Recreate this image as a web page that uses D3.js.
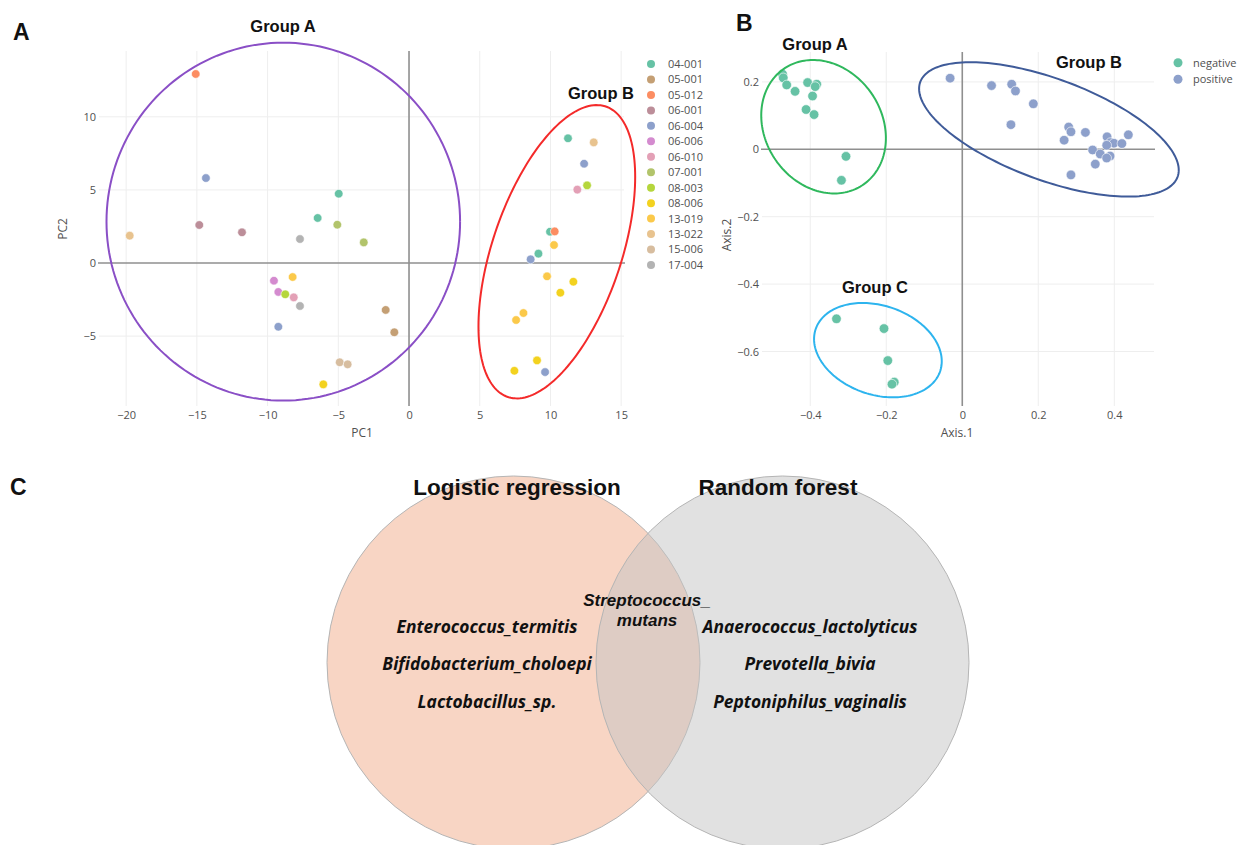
<!DOCTYPE html>
<html>
<head>
<meta charset="utf-8">
<script src="https://cdn.jsdelivr.net/npm/d3@7"></script>
<style>
  body { margin: 0; background: #fff; }
  svg { display: block; }
</style>
</head>
<body>
<svg id="fig" width="1237" height="845"></svg>
<script>
// ---------- Panel A: PCA of samples ----------
const sampleIds = ["04-001","05-001","05-012","06-001","06-004","06-006","06-010",
                   "07-001","08-003","08-006","13-019","13-022","15-006","17-004"];
const sampleColors = ["#66c2a5","#c49f74","#fc8d62","#bc8e99","#8da0cb","#d48bcf","#e3a0b6",
                      "#b2c46b","#b5d63c","#f3d21f","#fbc94a","#e8c38f","#d7bd9f","#b3b3b3"];

const pcaSample = ["04-001","04-001","04-001","04-001","04-001",
                   "05-001","05-001","05-012","05-012","06-001","06-001",
                   "06-004","06-004","06-004","06-004","06-004",
                   "06-006","06-006","06-010","06-010","07-001","07-001","08-003","08-003",
                   "08-006","08-006","08-006","08-006","08-006",
                   "13-019","13-019","13-019","13-019","13-019",
                   "13-022","13-022","15-006","15-006","17-004","17-004"];
const pcaPC1 = [-4.97,-6.46,11.24,9.97,9.15,
                -1.65,-1.04,-15.08,10.3,-14.83,-11.81,
                -14.36,-9.24,12.38,8.6,9.62,
                -9.55,-9.24,-8.15,11.9,-5.07,-3.2,-8.75,12.59,
                -6.06,10.7,9.05,7.45,11.62,
                -8.23,10.25,9.76,8.09,7.57,
                -19.75,13.06,-4.9,-4.34,-7.71,-7.71];
const pcaPC2 = [4.74,3.08,8.53,2.14,0.64,
                -3.21,-4.74,12.93,2.16,2.6,2.1,
                5.81,-4.36,6.79,0.25,-7.46,
                -1.21,-1.98,-2.35,5.02,2.62,1.41,-2.14,5.31,
                -8.3,-2.03,-6.66,-7.37,-1.28,
                -0.96,1.23,-0.91,-3.42,-3.9,
                1.87,8.25,-6.79,-6.93,1.64,-2.94];

const pcaXTicks = [-20,-15,-10,-5,0,5,10,15];
const pcaYTicks = [-5,0,5,10];

// cluster outlines: centre, half-extent along x and y, tilt term (-1..1)
const pcaGroupNames = ["Group A","Group B"];
const pcaGroupCx = [-8.89, 10.45];
const pcaGroupCy = [2.83, 0.77];
const pcaGroupW  = [12.5, 5.54];
const pcaGroupH  = [12.24, 10.03];
const pcaGroupTilt = [0, 0.51];

// ---------- Panel B: PCoA by status ----------
const statusNames = ["negative","positive"];
const statusColors = ["#66c2a5","#8da0cb"];
const pcoaStatus = [
  "negative","negative","negative","negative","negative","negative","negative","negative",
  "negative","negative","negative","negative",
  "negative","negative","negative","negative","negative",
  "positive","positive","positive","positive","positive","positive","positive","positive",
  "positive","positive","positive","positive","positive","positive","positive","positive",
  "positive","positive","positive","positive","positive","positive"];
const pcoaAxis1 = [-0.473,-0.471,-0.462,-0.440,-0.407,-0.383,-0.387,-0.394,
                   -0.411,-0.390,-0.306,-0.318,
                   -0.331,-0.206,-0.196,-0.179,-0.185,
                   -0.032,0.077,0.130,0.140,0.187,0.128,0.280,0.286,
                   0.324,0.268,0.381,0.437,0.390,0.399,0.420,0.380,
                   0.343,0.363,0.389,0.380,0.350,0.286];
const pcoaAxis2 = [0.223,0.212,0.191,0.172,0.198,0.193,0.186,0.158,
                   0.118,0.103,-0.021,-0.092,
                   -0.503,-0.532,-0.627,-0.691,-0.697,
                   0.211,0.189,0.193,0.173,0.135,0.073,0.066,0.052,
                   0.050,0.027,0.037,0.043,0.020,0.018,0.017,0.012,
                   -0.002,-0.014,-0.020,-0.026,-0.044,-0.076];

const pcoaXTicks = [-0.4,-0.2,0,0.2,0.4];
const pcoaYTicks = [-0.6,-0.4,-0.2,0,0.2];

const pcoaGroupNames = ["Group A","Group B","Group C"];
const pcoaGroupCx = [-0.365, 0.228, -0.222];
const pcoaGroupCy = [0.067, 0.059, -0.596];
const pcoaGroupW  = [0.164, 0.3416, 0.168];
const pcoaGroupH  = [0.198, 0.1994, 0.140];
const pcoaGroupTilt = [-0.17, -0.605, -0.236];

// ---------- Panel C: selected features ----------
const modelNames = ["Logistic regression","Random forest"];
const logisticOnly = ["Enterococcus_termitis","Bifidobacterium_choloepi","Lactobacillus_sp."];
const forestOnly = ["Anaerococcus_lactolyticus","Prevotella_bivia","Peptoniphilus_vaginalis"];
const sharedFeature = ["Streptococcus_","mutans"];

// ================= drawing =================
const svg = d3.select("#fig");
const tickFont = "'Open Sans', 'DejaVu Sans', sans-serif";
const boldFont = "'Liberation Sans', Arial, sans-serif";

function outlinePath(cx, cy, w, h, tilt, x, y) {
  const phi = Math.acos(tilt);
  const pts = d3.range(0, 361, 2).map(deg => {
    const t = deg * Math.PI / 180;
    return [x(cx + w * Math.cos(t)), y(cy + h * Math.cos(t - phi))];
  });
  return d3.line()(pts);
}

function drawFrame(g, x, y, xTicks, yTicks, fmt) {
  const [x0, x1] = x.range();
  const [y0, y1] = y.range(); // y0 bottom, y1 top
  // grid
  g.append("g").selectAll("line").data(xTicks.filter(v => v !== 0)).join("line")
    .attr("x1", d => x(d)).attr("x2", d => x(d)).attr("y1", y1).attr("y2", y0)
    .attr("stroke", "#eeeeee").attr("stroke-width", 1);
  g.append("g").selectAll("line").data(yTicks.filter(v => v !== 0)).join("line")
    .attr("y1", d => y(d)).attr("y2", d => y(d)).attr("x1", x0).attr("x2", x1)
    .attr("stroke", "#eeeeee").attr("stroke-width", 1);
  // zero lines
  g.append("line").attr("x1", x(0)).attr("x2", x(0)).attr("y1", y1).attr("y2", y0)
    .attr("stroke", "#8f8f8f").attr("stroke-width", 1.6);
  g.append("line").attr("y1", y(0)).attr("y2", y(0)).attr("x1", x0 - 1).attr("x2", x1 + 1)
    .attr("stroke", "#8f8f8f").attr("stroke-width", 1.6);
  // axes
  const ax = g.append("g").attr("transform", `translate(0,${y0})`)
    .call(d3.axisBottom(x).tickValues(xTicks).tickSize(0).tickPadding(5).tickFormat(fmt));
  const ay = g.append("g").attr("transform", `translate(${x0},0)`)
    .call(d3.axisLeft(y).tickValues(yTicks).tickSize(0).tickPadding(3).tickFormat(fmt));
  [ax, ay].forEach(a => {
    a.select(".domain").remove();
    a.selectAll("text").attr("fill", "#505050").style("font-family", tickFont).style("font-size", "11px");
  });
}

const fmt = d3.format("~g");

// ---- Panel A ----
const xA = d3.scaleLinear().domain([-21.92, 15.2]).range([99, 624]);
const yA = d3.scaleLinear().domain([-9.78, 14.5]).range([406, 51]);
const colorA = d3.scaleOrdinal().domain(sampleIds).range(sampleColors);
const gA = svg.append("g");
drawFrame(gA, xA, yA, pcaXTicks, pcaYTicks, fmt);

gA.append("g").selectAll("circle").data(pcaPC1.map((v, i) => i)).join("circle")
  .attr("cx", i => xA(pcaPC1[i])).attr("cy", i => yA(pcaPC2[i])).attr("r", 4.3)
  .attr("fill", i => colorA(pcaSample[i]))
  .attr("stroke", "#fff").attr("stroke-width", 0.6);

const outlineColorsA = ["#8a4fc6", "#f42a2a"];
gA.append("g").selectAll("path").data(pcaGroupNames.map((n, i) => i)).join("path")
  .attr("d", i => outlinePath(pcaGroupCx[i], pcaGroupCy[i], pcaGroupW[i], pcaGroupH[i], pcaGroupTilt[i], xA, yA))
  .attr("fill", "none").attr("stroke", i => outlineColorsA[i]).attr("stroke-width", 2);

gA.append("text").attr("x", 362).attr("y", 436.5).attr("text-anchor", "middle")
  .attr("fill", "#505050").style("font-family", tickFont).style("font-size", "12px").text("PC1");
gA.append("text").attr("transform", "translate(66.5,229) rotate(-90)").attr("text-anchor", "middle")
  .attr("fill", "#505050").style("font-family", tickFont).style("font-size", "12px").text("PC2");

// legend A
const legA = gA.append("g").selectAll("g").data(sampleIds).join("g")
  .attr("transform", (d, i) => `translate(651,${64 + i * 15.46})`);
legA.append("circle").attr("r", 4).attr("fill", d => colorA(d));
legA.append("text").attr("x", 17).attr("dy", "0.36em").attr("fill", "#505050")
  .style("font-family", tickFont).style("font-size", "11px").text(d => d);

// group labels A
const labelPosA = [[283, 32], [601, 99]];
gA.append("g").selectAll("text").data(pcaGroupNames).join("text")
  .attr("x", (d, i) => labelPosA[i][0]).attr("y", (d, i) => labelPosA[i][1])
  .attr("text-anchor", "middle").style("font-family", boldFont).style("font-weight", "bold")
  .style("font-size", "16.5px").attr("fill", "#111").text(d => d);

// ---- Panel B ----
const xB = d3.scaleLinear().domain([-0.527, 0.5045]).range([762, 1154]);
const yB = d3.scaleLinear().domain([-0.7617, 0.2887]).range([406, 52]);
const colorB = d3.scaleOrdinal().domain(statusNames).range(statusColors);
const gB = svg.append("g");
drawFrame(gB, xB, yB, pcoaXTicks, pcoaYTicks, fmt);

gB.append("g").selectAll("circle").data(pcoaAxis1.map((v, i) => i)).join("circle")
  .attr("cx", i => xB(pcoaAxis1[i])).attr("cy", i => yB(pcoaAxis2[i])).attr("r", 4.8)
  .attr("fill", i => colorB(pcoaStatus[i]))
  .attr("stroke", "#fff").attr("stroke-width", 0.6);

const outlineColorsB = ["#2fb85d", "#3f5b99", "#2db4ee"];
gB.append("g").selectAll("path").data(pcoaGroupNames.map((n, i) => i)).join("path")
  .attr("d", i => outlinePath(pcoaGroupCx[i], pcoaGroupCy[i], pcoaGroupW[i], pcoaGroupH[i], pcoaGroupTilt[i], xB, yB))
  .attr("fill", "none").attr("stroke", i => outlineColorsB[i]).attr("stroke-width", 2);

gB.append("text").attr("x", 957).attr("y", 436.5).attr("text-anchor", "middle")
  .attr("fill", "#505050").style("font-family", tickFont).style("font-size", "12px").text("Axis.1");
gB.append("text").attr("transform", "translate(731,235) rotate(-90)").attr("text-anchor", "middle")
  .attr("fill", "#505050").style("font-family", tickFont).style("font-size", "12px").text("Axis.2");

const legB = gB.append("g").selectAll("g").data(statusNames).join("g")
  .attr("transform", (d, i) => `translate(1178,${62.7 + i * 16.6})`);
legB.append("circle").attr("r", 4.5).attr("fill", d => colorB(d));
legB.append("text").attr("x", 15).attr("dy", "0.36em").attr("fill", "#505050")
  .style("font-family", tickFont).style("font-size", "11px").text(d => d);

const labelPosB = [[815, 50], [1089, 68], [875, 293]];
gB.append("g").selectAll("text").data(pcoaGroupNames).join("text")
  .attr("x", (d, i) => labelPosB[i][0]).attr("y", (d, i) => labelPosB[i][1])
  .attr("text-anchor", "middle").style("font-family", boldFont).style("font-weight", "bold")
  .style("font-size", "16.5px").attr("fill", "#111").text(d => d);

// ---- Panel C: Venn ----
const gC = svg.append("g");
const vennR = 186.5;
const vennCenters = [[513.5, 662.5], [782.5, 662.5]];
const vennFills = ["#f8d5c4", "rgba(196,196,196,0.5)"];
gC.append("g").selectAll("circle").data(modelNames).join("circle")
  .attr("cx", (d, i) => vennCenters[i][0]).attr("cy", (d, i) => vennCenters[i][1]).attr("r", vennR)
  .attr("fill", (d, i) => vennFills[i]).attr("stroke", "#b5b5b5").attr("stroke-width", 1);

const titleX = [517, 778];
gC.append("g").selectAll("text").data(modelNames).join("text")
  .attr("x", (d, i) => titleX[i]).attr("y", 495).attr("text-anchor", "middle")
  .style("font-family", boldFont).style("font-weight", "bold").style("font-size", "22.5px")
  .attr("fill", "#111").text(d => d);

const speciesFont = "'Open Sans', 'Noto Sans', sans-serif";
const rowY = [627, 664, 702];
gC.append("g").selectAll("text").data(logisticOnly).join("text")
  .attr("x", 487).attr("y", (d, i) => rowY[i]).attr("dy", "0.35em").attr("text-anchor", "middle")
  .style("font-family", speciesFont).style("font-weight", "bold").style("font-style", "italic")
  .style("font-size", "17.4px").attr("fill", "#111").text(d => d);
gC.append("g").selectAll("text").data(forestOnly).join("text")
  .attr("x", 810).attr("y", (d, i) => rowY[i]).attr("dy", "0.35em").attr("text-anchor", "middle")
  .style("font-family", speciesFont).style("font-weight", "bold").style("font-style", "italic")
  .style("font-size", "17.4px").attr("fill", "#111").text(d => d);
gC.append("g").selectAll("text").data(sharedFeature).join("text")
  .attr("x", 647).attr("y", (d, i) => 600 + i * 20.5).attr("dy", "0.35em").attr("text-anchor", "middle")
  .style("font-family", boldFont).style("font-weight", "bold").style("font-style", "italic")
  .style("font-size", "17px").attr("fill", "#111").text(d => d);

// ---- panel letters ----
const letters = [["A", 13, 40], ["B", 736, 31], ["C", 10, 495]];
svg.append("g").selectAll("text").data(letters).join("text")
  .attr("x", d => d[1]).attr("y", d => d[2])
  .style("font-family", boldFont).style("font-weight", "bold").style("font-size", "23px")
  .attr("fill", "#111").text(d => d[0]);
</script>
</body>
</html>
